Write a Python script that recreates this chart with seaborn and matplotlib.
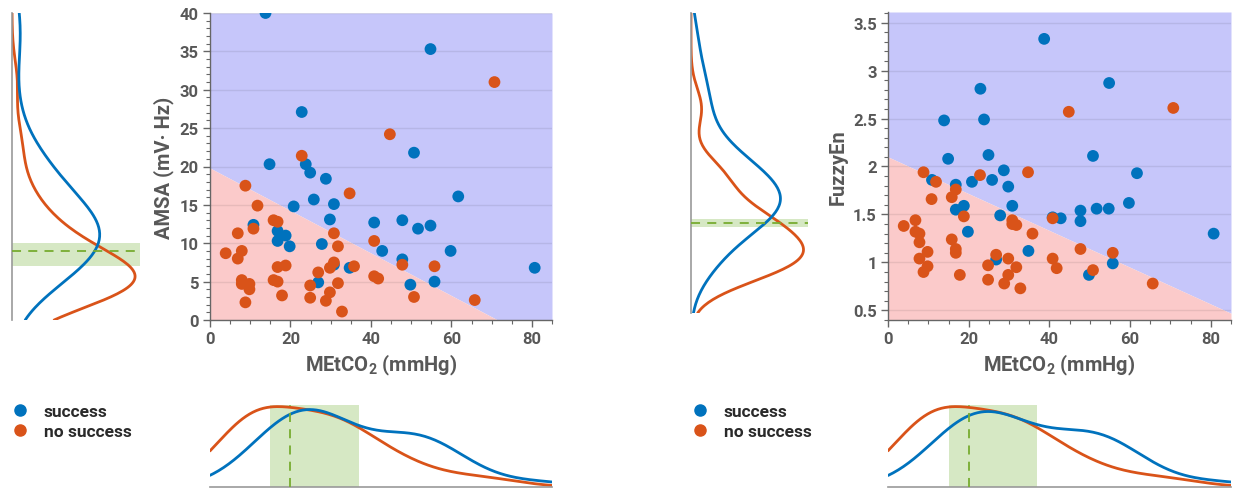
import numpy as np
import pandas as pd
import seaborn as sns
import matplotlib.pyplot as plt
from matplotlib.lines import Line2D
from matplotlib.ticker import MultipleLocator

sns.set_theme(style="white")
plt.rcParams['font.family'] = ['Roboto', 'DejaVu Sans']
plt.rcParams['mathtext.fontset'] = 'custom'
plt.rcParams['mathtext.rm'] = 'Roboto'
plt.rcParams['mathtext.bf'] = 'Roboto:bold'

# ---------------- data: left panel (AMSA) ----------------
amsa_succ_x = [13.8, 54.8, 22.8, 14.8, 23.8, 24.9, 28.8, 50.7, 61.7, 20.8, 25.8, 30.8, 29.8,
               10.8, 16.8, 16.8, 18.8, 19.8, 27.8, 40.8, 42.8, 47.8, 51.7, 54.8, 59.8, 47.8,
               49.8, 55.8, 80.7, 34.7, 30.8, 26.9]
amsa_succ_y = [40.0, 35.3, 27.1, 20.3, 20.3, 19.2, 18.4, 21.8, 16.1, 14.8, 15.7, 15.1, 13.1,
               12.4, 11.6, 10.3, 11.0, 9.6, 9.9, 12.7, 9.0, 13.0, 11.9, 12.3, 9.0, 7.9,
               4.6, 5.0, 6.8, 6.8, 7.2, 4.9]
amsa_fail_x = [70.7, 44.7, 22.8, 8.8, 34.7, 11.8, 15.8, 16.8, 10.8, 6.9, 30.8, 31.8, 40.8,
               3.9, 7.9, 6.9, 16.8, 18.8, 30.8, 29.8, 35.8, 47.8, 55.8, 15.8, 16.8, 7.9,
               7.9, 9.8, 9.8, 26.9, 24.9, 31.8, 40.8, 41.8, 17.9, 24.9, 29.8, 28.8, 8.8,
               32.8, 50.7, 65.8]
amsa_fail_y = [31.0, 24.2, 21.4, 17.5, 16.5, 14.9, 13.0, 12.8, 11.9, 11.3, 11.3, 9.6, 10.3,
               8.7, 9.0, 8.0, 6.9, 7.1, 7.5, 6.8, 7.0, 7.2, 7.0, 5.2, 5.0, 5.2,
               4.7, 4.7, 4.0, 6.2, 4.5, 4.8, 5.7, 5.4, 3.2, 2.9, 3.6, 2.5, 2.3,
               1.1, 3.0, 2.6]
amsa_boundary_x = [0, 85]
amsa_boundary_y = [19.8, -3.74]
amsa_threshold = 9.0
amsa_band = [7.0, 10.0]

# ---------------- data: right panel (FuzzyEn) ----------------
fuzzy_succ_x = [38.7, 22.9, 54.8, 13.9, 23.8, 14.9, 24.9, 50.8, 61.7, 28.7, 10.9, 16.8, 20.8,
                25.8, 29.8, 30.8, 18.8, 16.8, 27.8, 19.8, 40.8, 42.8, 47.7, 47.7, 51.7, 54.7,
                59.7, 80.7, 34.8, 55.7, 49.8, 26.8]
fuzzy_succ_y = [3.33, 2.81, 2.87, 2.48, 2.49, 2.08, 2.12, 2.11, 1.93, 1.96, 1.86, 1.81, 1.84,
                1.86, 1.79, 1.59, 1.59, 1.55, 1.49, 1.32, 1.47, 1.46, 1.54, 1.43, 1.56, 1.56,
                1.62, 1.30, 1.12, 0.99, 0.87, 1.03]
fuzzy_fail_x = [70.7, 44.8, 34.7, 8.8, 22.8, 11.9, 16.8, 15.8, 10.8, 18.8, 6.8, 3.9, 6.8,
                7.8, 7.8, 15.8, 30.8, 31.8, 30.8, 35.8, 40.8, 16.8, 16.8, 9.8, 7.8, 9.8,
                8.8, 17.8, 24.8, 24.8, 26.8, 29.8, 29.8, 28.8, 31.8, 32.8, 40.8, 41.8, 47.7,
                55.7, 50.8, 65.6]
fuzzy_fail_y = [2.61, 2.57, 1.94, 1.94, 1.91, 1.84, 1.76, 1.68, 1.66, 1.48, 1.44, 1.38, 1.32,
                1.30, 1.21, 1.24, 1.44, 1.39, 1.40, 1.30, 1.46, 1.14, 1.10, 1.11, 1.04, 0.96,
                0.90, 0.87, 0.97, 0.82, 1.08, 1.04, 0.87, 0.78, 0.95, 0.73, 1.04, 0.94, 1.14,
                1.10, 0.92, 0.78]
fuzzy_boundary_x = [0, 85]
fuzzy_boundary_y = [2.10, 0.47]
fuzzy_threshold = 1.36
fuzzy_band = [1.32, 1.41]

# ---------------- data: MEtCO2 marginal ----------------
metco2_threshold = 20.0
metco2_band = [15.0, 37.0]

labels = ["success", "no success"]
C_SUCC = "#0072BD"
C_FAIL = "#D95319"
palette = {labels[0]: C_SUCC, labels[1]: C_FAIL}
FILL_BLUE = "#c6c6fa"
FILL_PINK = "#fbcaca"
BAND_GREEN = "#d6e8c4"
DASH_GREEN = "#77AC30"
TXT = "#585858"


def make_df(sx, sy, fx, fy):
    return pd.DataFrame({
        "x": list(sx) + list(fx),
        "y": list(sy) + list(fy),
        "group": [labels[0]] * len(sx) + [labels[1]] * len(fx),
    })


W, H = 1233, 489
fig = plt.figure(figsize=(W / 100, H / 100), dpi=100)


def px_axes(x0, y0, x1, y1):
    return fig.add_axes([x0 / W, 1 - y1 / H, (x1 - x0) / W, (y1 - y0) / H])


def scatter_panel(ax, df, bx, by, ylim, ymajor, yminor, ylabel, yfmt=None):
    ax.set_xlim(0, 85)
    ax.set_ylim(*ylim)
    ax.fill_between(bx, by, ylim[1], color=FILL_BLUE, zorder=0, lw=0)
    ax.fill_between(bx, ylim[0], by, color=FILL_PINK, zorder=0, lw=0)
    sns.scatterplot(data=df, x="x", y="y", hue="group", palette=palette, s=72,
                    edgecolor="none", linewidth=0, legend=False, ax=ax, zorder=3)
    ax.xaxis.set_major_locator(MultipleLocator(20))
    ax.xaxis.set_minor_locator(MultipleLocator(5))
    ax.yaxis.set_major_locator(MultipleLocator(ymajor))
    ax.yaxis.set_minor_locator(MultipleLocator(yminor))
    if yfmt is not None:
        ax.yaxis.set_major_formatter(yfmt)
    ax.grid(axis="y", which="major", color="#000000", alpha=0.08, lw=1, zorder=1)
    ax.set_axisbelow(False)
    for s in ["top", "right"]:
        ax.spines[s].set_visible(False)
    for s in ["left", "bottom"]:
        ax.spines[s].set_color("#666666")
        ax.spines[s].set_linewidth(1.0)
    ax.tick_params(which="major", direction="out", length=5, width=1, color="#666666",
                   labelsize=12, labelcolor=TXT, left=True, bottom=True, pad=3)
    ax.tick_params(which="minor", direction="out", length=3, width=0.8, color="#666666",
                   left=True, bottom=True)
    for t in ax.get_xticklabels() + ax.get_yticklabels():
        t.set_fontweight("bold")
    ax.set_xlabel(r"MEtCO$_\mathbf{2}$ (mmHg)", fontsize=14.5, color=TXT,
                  fontweight="bold", labelpad=4)
    ax.set_ylabel(ylabel, fontsize=14.5, color=TXT, fontweight="bold", labelpad=4)


def side_kde(ax, df, ylim, band, thr):
    ax.axhspan(band[0], band[1], color=BAND_GREEN, lw=0, zorder=0)
    sns.kdeplot(data=df, y="y", hue="group", palette=palette, common_norm=False,
                clip=ylim, cut=12, lw=2.0, legend=False, ax=ax, zorder=2)
    ax.axhline(thr, color=DASH_GREEN, ls=(0, (5, 4)), lw=1.3, zorder=3)
    ax.set_ylim(*ylim)
    xmax = max(l.get_xdata().max() for l in ax.get_lines() if len(l.get_xdata()) > 2)
    ax.set_xlim(0, xmax * 1.04)
    ax.set_xticks([]); ax.set_yticks([])
    ax.set_xlabel(""); ax.set_ylabel("")
    for s in ["top", "right", "bottom"]:
        ax.spines[s].set_visible(False)
    ax.spines["left"].set_color("#999999")
    ax.spines["left"].set_linewidth(1.2)


def bottom_kde(ax, df):
    ax.axvspan(metco2_band[0], metco2_band[1], color=BAND_GREEN, lw=0, zorder=0)
    sns.kdeplot(data=df, x="x", hue="group", palette=palette, common_norm=False,
                clip=(0, 85), cut=3, bw_adjust=1.15, lw=2.0, legend=False, ax=ax, zorder=2)
    ax.axvline(metco2_threshold, color=DASH_GREEN, ls=(0, (5, 4)), lw=1.3, zorder=3)
    ax.set_xlim(0, 85)
    ymax = max(l.get_ydata().max() for l in ax.get_lines() if len(l.get_ydata()) > 2)
    ax.set_ylim(0, ymax * 1.02)
    ax.set_xticks([]); ax.set_yticks([])
    ax.set_xlabel(""); ax.set_ylabel("")
    for s in ["top", "right", "left"]:
        ax.spines[s].set_visible(False)
    ax.spines["bottom"].set_color("#999999")
    ax.spines["bottom"].set_linewidth(1.2)


df_a = make_df(amsa_succ_x, amsa_succ_y, amsa_fail_x, amsa_fail_y)
df_f = make_df(fuzzy_succ_x, fuzzy_succ_y, fuzzy_fail_x, fuzzy_fail_y)

# left group
ax_ls = px_axes(210, 14, 552, 321)
scatter_panel(ax_ls, df_a, amsa_boundary_x, amsa_boundary_y, (0, 40), 5, 1, "AMSA (mV· Hz)")
ax_lm = px_axes(12, 14, 140, 321)
side_kde(ax_lm, df_a, (0, 40), amsa_band, amsa_threshold)
ax_lb = px_axes(210, 406, 552, 488)
bottom_kde(ax_lb, df_a)

# right group
fmt = plt.FuncFormatter(lambda v, p: ("%g" % v))
ax_rs = px_axes(888, 13, 1231, 321)
scatter_panel(ax_rs, df_f, fuzzy_boundary_x, fuzzy_boundary_y, (0.4, 3.61), 0.5, 0.1,
              "FuzzyEn", yfmt=fmt)
ax_rm = px_axes(691, 14, 808, 314)
side_kde(ax_rm, df_f, (0.4, 3.61), fuzzy_band, fuzzy_threshold)
ax_rb = px_axes(888, 406, 1231, 488)
bottom_kde(ax_rb, df_f)

# legends
handles = [Line2D([], [], marker="o", ls="none", color=palette[l], markersize=8) for l in labels]
for xpix in (4, 684):
    leg = fig.legend(handles, labels, loc="upper left",
                     bbox_to_anchor=(xpix / W, 1 - 398 / H), frameon=False,
                     fontsize=12.5, handlelength=1.0, handletextpad=0.9, labelspacing=0.3,
                     borderaxespad=0)
    for t in leg.get_texts():
        t.set_color("#2a2a2a")
        t.set_fontweight("bold")

fig.savefig("out.png", dpi=100)
